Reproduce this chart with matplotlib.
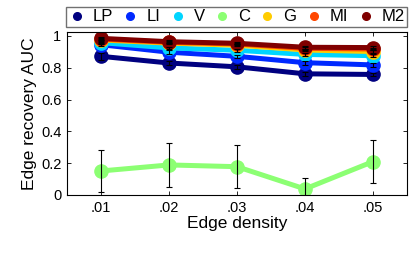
import numpy as np
import matplotlib
matplotlib.use("Agg")
import matplotlib.pyplot as plt
from matplotlib.lines import Line2D

plt.rcParams["font.family"] = ["Liberation Sans", "DejaVu Sans"]

# data
density = [0.01, 0.02, 0.03, 0.04, 0.05]
names = ["LP", "LI", "V", "C", "G", "MI", "M2"]
lp = [0.872, 0.830, 0.806, 0.762, 0.758]
li = [0.945, 0.898, 0.872, 0.832, 0.818]
v = [0.958, 0.925, 0.910, 0.884, 0.876]
c = [0.151, 0.189, 0.178, 0.038, 0.210]
g = [0.975, 0.955, 0.942, 0.912, 0.902]
mi = [0.980, 0.960, 0.950, 0.922, 0.918]
m2 = [0.985, 0.964, 0.954, 0.929, 0.927]

lp_err = [0.022, 0.014, 0.013, 0.012, 0.008]
li_err = [0.008, 0.012, 0.010, 0.012, 0.010]
v_err = [0.006, 0.008, 0.008, 0.008, 0.008]
c_err = [0.130, 0.140, 0.135, 0.072, 0.135]
g_err = [0.006, 0.006, 0.006, 0.008, 0.008]
mi_err = [0.006, 0.006, 0.006, 0.008, 0.008]
m2_err = [0.008, 0.008, 0.006, 0.008, 0.008]

series = [lp, li, v, c, g, mi, m2]
errors = [lp_err, li_err, v_err, c_err, g_err, mi_err, m2_err]
colors = plt.cm.jet(np.linspace(0, 1, 7))
colors[3] = (0.55, 1.0, 0.45, 1.0)
colors[4] = (1.0, 0.8, 0.0, 1.0)

fig = plt.figure(figsize=(4.15, 2.61), dpi=100)
ax = fig.add_axes([0.1614, 0.2529, 0.8193, 0.6245])

for vals, col in zip(series, colors):
    ax.plot(density, vals, "-o", color=col, lw=3.6, ms=9.5, mec=col, zorder=2)
for vals, err in zip(series, errors):
    ax.errorbar(density, vals, yerr=err, fmt="none", ecolor="black", elinewidth=0.8,
                capsize=2.5, capthick=0.8, zorder=3)

ax.set_xlim(0.005, 0.055)
ax.set_ylim(0, 1.025)
ax.set_xticks(density)
ax.set_xticklabels([".01", ".02", ".03", ".04", ".05"])
ax.set_yticks([0, 0.2, 0.4, 0.6, 0.8, 1])
ax.set_yticklabels(["0", "0.2", "0.4", "0.6", "0.8", "1"])
ax.tick_params(direction="in", length=3, width=0.6, top=True, right=True,
               labelsize=10.5, pad=4)
for sp in ax.spines.values():
    sp.set_linewidth(0.8)
ax.set_xlabel("Edge density", fontsize=12.5, labelpad=1)
ax.set_ylabel("Edge recovery AUC", fontsize=12.5, labelpad=3)

handles = [Line2D([], [], marker="o", ls="none", color=col, ms=5.5) for col in colors]
fig.legend(handles, names, loc="lower left", ncol=7, mode="expand",
           bbox_to_anchor=(0.159, 0.8966, 0.822, 0.092), bbox_transform=fig.transFigure,
           fontsize=12, frameon=True, fancybox=False, edgecolor="0.3",
           handletextpad=0.45, columnspacing=0.5, handlelength=1.0, borderpad=0.15,
           borderaxespad=0)

fig.savefig("out.png", dpi=100)
